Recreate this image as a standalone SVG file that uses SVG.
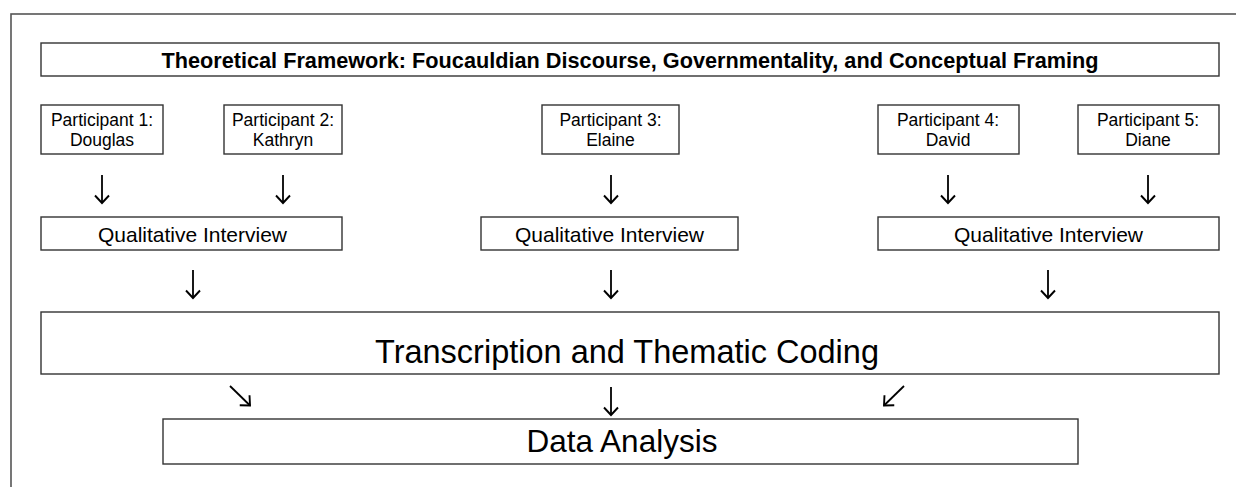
<svg xmlns="http://www.w3.org/2000/svg" width="1236" height="487" viewBox="0 0 1236 487">
<style>
.frame{fill:#fff;stroke:#555;stroke-width:1.6}
.box{fill:#fff;stroke:#333;stroke-width:1.4}
.t{font-family:"Liberation Sans",Arial,Helvetica,sans-serif;fill:#000;text-anchor:middle}
.title{font-size:21.7px;font-weight:bold}
.p{font-size:17.5px}
.q{font-size:21px}
.big{font-size:32.5px}
.arr{fill:none;stroke:#000;stroke-width:1.8;marker-end:url(#head)}
</style>
<defs>
<marker id="head" markerUnits="userSpaceOnUse" viewBox="-10 -9 12 18" refX="0" refY="0" markerWidth="12" markerHeight="18" orient="auto" overflow="visible">
<path d="M-7.5,-7 L0,0 L-7.5,7" fill="none" stroke="#000" stroke-width="1.9" stroke-linejoin="miter"/>
</marker>
</defs>
<rect width="1236" height="487" fill="#fff"/>
<rect class="frame" x="11" y="14" width="1240" height="490"/>
<g id="theory">
<rect class="box" x="41" y="43" width="1178" height="33"/>
<text class="t title" x="630" y="68">Theoretical Framework: Foucauldian Discourse, Governmentality, and Conceptual Framing</text>
</g>
<g id="participant1">
<rect class="box" x="41" y="105" width="122" height="49"/>
<text class="t p" x="102" y="126">Participant 1:</text>
<text class="t p" x="102" y="146">Douglas</text>
</g>
<g id="participant2">
<rect class="box" x="224" y="105" width="118" height="49"/>
<text class="t p" x="283" y="126">Participant 2:</text>
<text class="t p" x="283" y="146">Kathryn</text>
</g>
<g id="participant3">
<rect class="box" x="542" y="105" width="137" height="49"/>
<text class="t p" x="610.5" y="126">Participant 3:</text>
<text class="t p" x="610.5" y="146">Elaine</text>
</g>
<g id="participant4">
<rect class="box" x="878" y="105" width="141" height="49"/>
<text class="t p" x="948" y="126">Participant 4:</text>
<text class="t p" x="948" y="146">David</text>
</g>
<g id="participant5">
<rect class="box" x="1078" y="105" width="141" height="49"/>
<text class="t p" x="1148" y="126">Participant 5:</text>
<text class="t p" x="1148" y="146">Diane</text>
</g>
<g id="interview1">
<rect class="box" x="41" y="217" width="301" height="33"/>
<text class="t q" x="192.5" y="241.5">Qualitative Interview</text>
</g>
<g id="interview2">
<rect class="box" x="481" y="217" width="257" height="33"/>
<text class="t q" x="609.5" y="241.5">Qualitative Interview</text>
</g>
<g id="interview3">
<rect class="box" x="878" y="217" width="341" height="33"/>
<text class="t q" x="1048.5" y="241.5">Qualitative Interview</text>
</g>
<g id="coding">
<rect class="box" x="41" y="312" width="1178" height="62"/>
<text class="t big" x="627" y="363">Transcription and Thematic Coding</text>
</g>
<g id="analysis">
<rect class="box" x="163" y="419" width="915" height="45"/>
<text class="t big" x="622" y="451.5" style="font-size:31.5px">Data Analysis</text>
</g>
<g id="connectors">
<line class="arr" x1="102" y1="175" x2="102" y2="203"/>
<line class="arr" x1="283" y1="175" x2="283" y2="203"/>
<line class="arr" x1="611" y1="175" x2="611" y2="203"/>
<line class="arr" x1="948" y1="175" x2="948" y2="203"/>
<line class="arr" x1="1148" y1="175" x2="1148" y2="203"/>
<line class="arr" x1="193" y1="270" x2="193" y2="298"/>
<line class="arr" x1="611" y1="270" x2="611" y2="298"/>
<line class="arr" x1="1048" y1="270" x2="1048" y2="298"/>
<line class="arr" x1="230" y1="386" x2="250" y2="405.5"/>
<line class="arr" x1="611" y1="387" x2="611" y2="415"/>
<line class="arr" x1="904" y1="386" x2="884" y2="405.5"/>
</g>
</svg>
